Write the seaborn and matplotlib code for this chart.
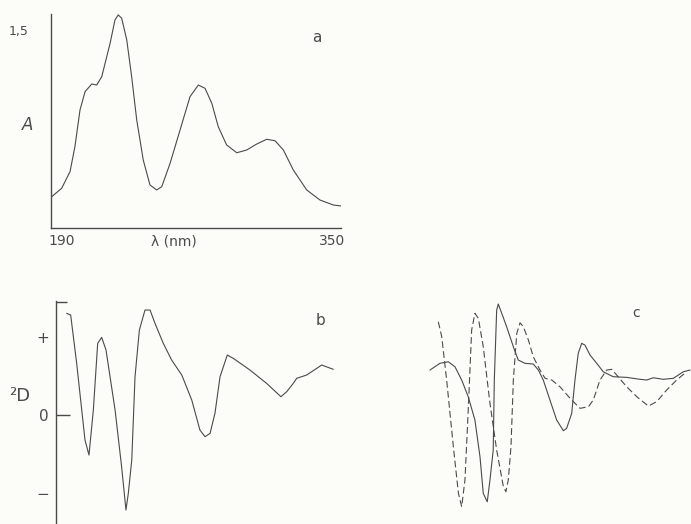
import numpy as np
import pandas as pd
import matplotlib
matplotlib.use("Agg")
import matplotlib.pyplot as plt
import seaborn as sns

sns.set_style("white")
plt.rcParams['font.family'] = ['DejaVu Sans']

# ---- data ----
# panel a: absorbance spectrum
a_nm = [190.4, 195.9, 200.5, 203.2, 206.0, 208.8, 212.5, 215.2, 218.0, 220.3, 222.6, 225.3,
        227.1, 229.0, 231.8, 234.5, 237.3, 240.9, 244.6, 248.3, 251.1, 255.7, 261.2, 266.7,
        271.3, 275.0, 278.7, 282.3, 286.9, 292.5, 298.0, 303.5, 309.0, 313.6, 318.2, 323.7,
        331.1, 338.4, 345.8, 350.0]
a_A = [0.237, 0.301, 0.427, 0.616, 0.894, 1.033, 1.091, 1.083, 1.146, 1.273, 1.399, 1.576,
       1.614, 1.589, 1.424, 1.146, 0.818, 0.515, 0.326, 0.288, 0.313, 0.490, 0.742, 0.995,
       1.083, 1.058, 0.945, 0.767, 0.629, 0.570, 0.591, 0.636, 0.672, 0.661, 0.591, 0.439,
       0.288, 0.212, 0.174, 0.167]

# panel b: second derivative
b_nm = [195.9, 198.1, 201.4, 206.0, 208.2, 210.6, 213.0, 215.2, 217.6, 222.6, 226.2, 228.6,
        229.9, 231.8, 233.6, 236.0, 239.1, 241.9, 244.6, 249.2, 253.8, 259.4, 264.9, 269.4,
        272.2, 275.0, 277.7, 280.5, 284.5, 287.8, 297.0, 306.2, 314.1, 317.3, 320.9, 322.8,
        328.3, 336.6, 343.0]
b_D = [1.304, 1.282, 0.663, -0.321, -0.513, 0.064, 0.919, 0.996, 0.833, 0.064, -0.663, -1.218,
       -1.004, -0.577, 0.491, 1.090, 1.346, 1.346, 1.176, 0.919, 0.705, 0.513, 0.192, -0.192,
       -0.278, -0.235, 0.022, 0.491, 0.769, 0.727, 0.577, 0.406, 0.235, 0.299, 0.406, 0.471,
       0.513, 0.641, 0.586]

# panel c: solid trace
c1_nm = [195.5, 201.0, 205.6, 209.3, 213.0, 216.6, 220.3, 223.1, 224.9, 227.1, 228.6, 230.4,
         231.0, 232.3, 233.2, 235.1, 237.8, 241.5, 244.2, 247.9, 252.5, 255.3, 258.0, 261.7,
         265.4, 269.1, 270.9, 273.7, 275.5, 277.3, 279.2, 281.0, 283.8, 287.5, 291.1, 296.6,
         304.0, 311.4, 315.1, 318.7, 324.2, 329.8, 335.3, 339.0]
c1_D = [0.577, 0.663, 0.683, 0.619, 0.449, 0.235, -0.064, -0.535, -1.004, -1.112, -0.833, -0.449,
        0.449, 1.346, 1.423, 1.304, 1.132, 0.876, 0.705, 0.663, 0.654, 0.577, 0.449, 0.192,
        -0.064, -0.201, -0.171, 0.022, 0.449, 0.791, 0.919, 0.897, 0.769, 0.663, 0.555, 0.491,
        0.483, 0.458, 0.449, 0.478, 0.458, 0.471, 0.555, 0.577]

# panel c: dashed trace
c2_nm = [200.1, 202.0, 204.7, 208.4, 211.2, 213.0, 214.8, 216.7, 218.5, 220.3, 222.2, 224.9,
         228.6, 232.3, 236.0, 237.4, 238.7, 240.2, 241.5, 243.4, 245.2, 247.0, 249.8, 252.5,
         256.2, 259.0, 262.7, 267.2, 272.8, 278.3, 282.9, 285.6, 289.3, 293.0, 295.8, 298.5,
         304.0, 309.6, 316.0, 320.6, 326.1, 331.6, 337.1]
c2_D = [1.196, 1.004, 0.449, -0.406, -1.004, -1.176, -0.833, 0.106, 1.090, 1.304, 1.240, 0.876,
        0.150, -0.449, -0.919, -0.983, -0.833, -0.406, 0.449, 1.047, 1.183, 1.132, 0.962, 0.747,
        0.577, 0.471, 0.449, 0.363, 0.214, 0.086, 0.106, 0.192, 0.449, 0.577, 0.586, 0.513,
        0.363, 0.235, 0.115, 0.171, 0.321, 0.449, 0.555]

y_ticks_b = [-1, 0, 1]
y_labels_b = ['−', '0', '+']

# ---- figure ----
W, H = 691, 524
fig = plt.figure(figsize=(W / 100, H / 100), dpi=100)
fig.patch.set_facecolor('#fcfcf9')

ink = '#4a4a4a'
lw = 0.8
fs = 10

def ax_px(left, top, right, bottom):
    return fig.add_axes([left / W, 1 - bottom / H, (right - left) / W, (bottom - top) / H])

# panel a
axa = ax_px(51, 14, 341, 228)
axa.set_facecolor('none')
sns.lineplot(x=a_nm, y=a_A, ax=axa, color=ink, lw=lw, sort=False, estimator=None)
axa.set_xlim(190, 350)
axa.set_ylim(0, 1.621)
for s in ['top', 'right']:
    axa.spines[s].set_visible(False)
for s in ['left', 'bottom']:
    axa.spines[s].set_color(ink)
    axa.spines[s].set_linewidth(1.0)
axa.set_xticks([])
axa.set_yticks([1.5])
axa.set_yticklabels(['1,5'], fontsize=9, color=ink)
axa.tick_params(axis='y', length=0, pad=16)
axa.set_ylabel('A', fontsize=12, color=ink, style='italic', rotation=0)
axa.yaxis.set_label_coords(-0.08, 0.44)
axa.text(196, -0.1, '190', ha='center', va='center', fontsize=fs, color=ink)
axa.text(258, -0.1, 'λ (nm)', ha='center', va='center', fontsize=fs, color=ink)
axa.text(345, -0.1, '350', ha='center', va='center', fontsize=fs, color=ink)
axa.text(336.8, 1.44, 'a', ha='center', va='center', fontsize=fs + 1, color=ink)

# panel b
ylo, yhi = -1.397, 1.462
axb = ax_px(56, 301, 346, 524)
axb.set_facecolor('none')
sns.lineplot(x=b_nm, y=b_D, ax=axb, color=ink, lw=lw, sort=False, estimator=None)
axb.set_xlim(190, 350)
axb.set_ylim(ylo, yhi)
for s in ['top', 'right', 'bottom']:
    axb.spines[s].set_visible(False)
axb.spines['left'].set_color(ink)
axb.spines['left'].set_linewidth(1.0)
axb.set_xticks([])
axb.set_yticks(y_ticks_b)
axb.set_yticklabels(y_labels_b, fontsize=11, color=ink)
axb.tick_params(axis='y', which='both', left=True, direction='in', length=10,
                color=ink, width=1.0, pad=5)
ticks = axb.yaxis.get_major_ticks()
ticks[0].tick1line.set_markersize(0)
ticks[2].tick1line.set_markersize(0)
axb.set_yticks([yhi - 0.01], minor=True)
axb.tick_params(axis='y', which='minor', direction='in', length=8, color=ink, width=1.0)
fig.text(20 / W, 1 - 396 / H, '²D', fontsize=13, color=ink, ha='center', va='center')
axb.text(335.7, 1.21, 'b', ha='center', va='center', fontsize=fs + 1, color=ink)

# panel c
axc = ax_px(420, 301, 710, 524)
axc.set_facecolor('none')
sns.lineplot(x=c1_nm, y=c1_D, ax=axc, color=ink, lw=lw, sort=False, estimator=None)
sns.lineplot(x=c2_nm, y=c2_D, ax=axc, color=ink, lw=lw, sort=False, estimator=None,
             dashes=False, linestyle=(0, (6, 3)))
axc.set_xlim(190, 350)
axc.set_ylim(ylo, yhi)
axc.axis('off')
axc.text(309.2, 1.31, 'c', ha='center', va='center', fontsize=fs, color=ink)

fig.savefig('out.png', dpi=100, facecolor=fig.get_facecolor())
